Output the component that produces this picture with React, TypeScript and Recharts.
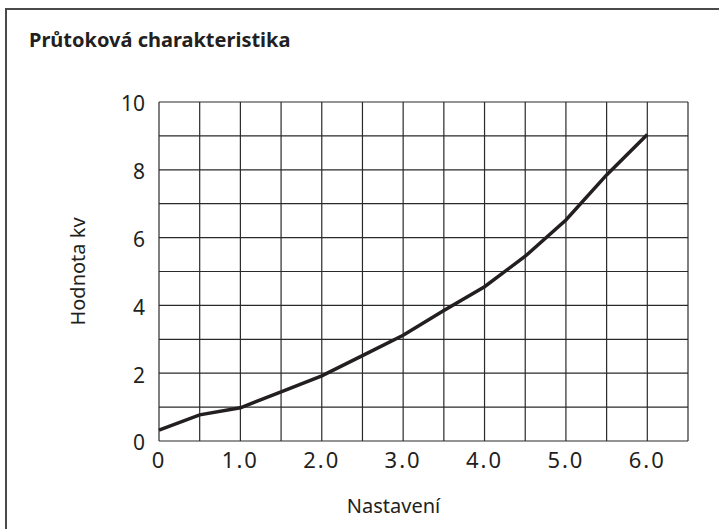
import React from 'react';
import { LineChart, Line, XAxis, YAxis, CartesianGrid, Label } from 'recharts';

// Nastavení (setting) vs. Hodnota kv
const settings = [0, 0.5, 1, 1.5, 2, 2.5, 3, 3.5, 4, 4.5, 5, 5.5, 6];
const kvValues = [0.32, 0.77, 0.98, 1.45, 1.92, 2.52, 3.12, 3.85, 4.55, 5.45, 6.52, 7.85, 9.04];

const xTicks = [0, 0.5, 1, 1.5, 2, 2.5, 3, 3.5, 4, 4.5, 5, 5.5, 6, 6.5];
const yTicks = [0, 1, 2, 3, 4, 5, 6, 7, 8, 9, 10];

const data = settings.map((s, i) => ({ setting: s, kv: kvValues[i] }));

const FONT = "'Noto Sans', 'Open Sans', sans-serif";

const fmtX = (v: number) => {
  if (v === 0) return '0';
  if (v % 1 !== 0 || v > 6) return '';
  return v.toFixed(1);
};
const fmtY = (v: number) => (v % 2 === 0 ? String(v) : '');

const App: React.FC = () => {
  return (
    <div style={{ position: 'absolute', left: 0, top: 0, width: 719, height: 529, overflow: 'hidden', background: '#fff' }}>
      <div
        style={{
          position: 'absolute',
          left: 5,
          top: 8,
          width: 800,
          height: 600,
          borderLeft: '2px solid #4a4a4a',
          borderTop: '2px solid #4a4a4a',
        }}
      />
      <div
        style={{
          position: 'absolute',
          left: 29,
          top: 30,
          fontFamily: FONT,
          fontWeight: 700,
          fontSize: 20,
          lineHeight: '20px',
          color: '#231f20',
          whiteSpace: 'nowrap',
        }}
      >
        Průtoková charakteristika
      </div>
      <div style={{ position: 'absolute', left: 0, top: 0 }}>
        <LineChart width={719} height={529} data={data} margin={{ top: 102, right: 31, left: 99, bottom: 48 }}>
          <CartesianGrid stroke="#2a2a2a" strokeWidth={1.2} />
          <XAxis
            dataKey="setting"
            type="number"
            domain={[0, 6.5]}
            ticks={xTicks}
            tickFormatter={fmtX}
            interval={0}
            height={40}
            axisLine={false}
            tickLine={false}
            tickSize={0}
            tickMargin={11}
            tick={{ fontSize: 22, fill: '#231f20', fontFamily: FONT, letterSpacing: 2 }}
          >
            <Label
              content={(props: any) => {
                const vb = props.viewBox || {};
                return (
                  <text
                    x={vb.x + vb.width / 2 - 30}
                    y={505}
                    textAnchor="middle"
                    dominantBaseline="central"
                    fontSize={20}
                    fontFamily={FONT}
                    fill="#231f20"
                  >
                    Nastavení
                  </text>
                );
              }}
            />
          </XAxis>
          <YAxis
            type="number"
            domain={[0, 10]}
            ticks={yTicks}
            tickFormatter={fmtY}
            interval={0}
            width={60}
            axisLine={false}
            tickLine={false}
            tickSize={0}
            tickMargin={14}
            tick={{ fontSize: 21, fill: '#231f20', fontFamily: FONT, dy: 2 }}
          >
            <Label
              content={(props: any) => {
                const vb = props.viewBox || {};
                const cx = 77;
                const cy = vb.y + vb.height / 2;
                return (
                  <text
                    x={cx}
                    y={cy}
                    transform={`rotate(-90 ${cx} ${cy})`}
                    textAnchor="middle"
                    dominantBaseline="central"
                    fontSize={20}
                    fontFamily={FONT}
                    fill="#231f20"
                  >
                    Hodnota kv
                  </text>
                );
              }}
            />
          </YAxis>
          <Line
            type="linear"
            dataKey="kv"
            stroke="#231f20"
            strokeWidth={3.5}
            dot={false}
            activeDot={false}
            isAnimationActive={false}
          />
        </LineChart>
      </div>
    </div>
  );
};

export default App;
